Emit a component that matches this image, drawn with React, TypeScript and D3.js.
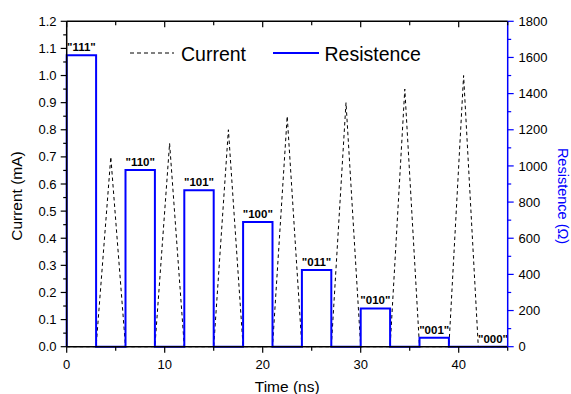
import React from "react";
import * as d3 from "d3";

const currentTimes = [0, 3, 4.5, 6, 9, 10.5, 12, 15, 16.5, 18, 21, 22.5, 24, 27, 28.5, 30, 33, 34.5, 36, 39, 40.5, 42, 45];
const currentValues = [0, 0, 0.7, 0, 0, 0.75, 0, 0, 0.8, 0, 0, 0.85, 0, 0, 0.9, 0, 0, 0.95, 0, 0, 1.0, 0, 0];

const stateLabels = ['"111"', '"110"', '"101"', '"100"', '"011"', '"010"', '"001"', '"000"'];
const blockStarts = [0, 6, 12, 18, 24, 30, 36, 42];
const blockEnds = [3, 9, 15, 21, 27, 33, 39, 45];
const resistanceValues = [1612, 978, 866, 690, 424, 212, 50, 0];

const xTicks = [0, 10, 20, 30, 40];
const leftTicks = [0, 0.1, 0.2, 0.3, 0.4, 0.5, 0.6, 0.7, 0.8, 0.9, 1.0, 1.1, 1.2];
const rightTicks = [0, 200, 400, 600, 800, 1000, 1200, 1400, 1600, 1800];

const W = 571, H = 394;
const M = { left: 66.7, right: 507.7, top: 21.3, bottom: 346.7 };
const FONT = "Liberation Sans, Arial, sans-serif";

export default function App() {
  const x = d3.scaleLinear().domain([0, 45]).range([M.left, M.right]);
  const y = d3.scaleLinear().domain([0, 1.2]).range([M.bottom, M.top]);
  const yR = d3.scaleLinear().domain([0, 1800]).range([M.bottom, M.top]);

  const curPts: [number, number][] = currentTimes.map((t, i) => [t, currentValues[i]]);
  const curLine = d3.line<[number, number]>().x(d => x(d[0])).y(d => y(d[1]))(curPts) || "";

  const resPts: [number, number][] = [];
  blockStarts.forEach((s, i) => {
    resPts.push([s, 0]);
    resPts.push([s, resistanceValues[i]]);
    resPts.push([blockEnds[i], resistanceValues[i]]);
    resPts.push([blockEnds[i], 0]);
  });
  const resLine = d3.line<[number, number]>().x(d => x(d[0])).y(d => yR(d[1]))(resPts) || "";

  const xMinor = d3.range(5, 45.1, 10);
  const leftMinor = d3.range(0.05, 1.2, 0.1);
  const rightMinor = d3.range(100, 1800, 200);
  const midY = 196;

  return (
    <svg width={W} height={H} style={{ position: "absolute", left: 0, top: 0, background: "#fff" }} fontFamily={FONT}>
      <rect x={0} y={0} width={W} height={H} fill="#fff" />
      {/* data */}
      <path d={curLine} fill="none" stroke="#000" strokeWidth={1} strokeDasharray="3.5,3" />
      <path d={resLine} fill="none" stroke="#0000ff" strokeWidth={2} />

      {stateLabels.map((l, i) => (
        <text key={l} x={x((blockStarts[i] + blockEnds[i]) / 2)} y={yR(resistanceValues[i]) - 4}
          textAnchor="middle" fontSize={11.5} fontWeight="bold" fill="#000">{l}</text>
      ))}

      {/* frame */}
      <line x1={M.left} x2={M.right} y1={M.top} y2={M.top} stroke="#000" strokeWidth={1.5} />
      <line x1={M.left} x2={M.right} y1={M.bottom} y2={M.bottom} stroke="#000" strokeWidth={1.5} />
      <line x1={M.left} x2={M.left} y1={M.top} y2={M.bottom} stroke="#000" strokeWidth={1.5} />
      <line x1={M.right} x2={M.right} y1={M.top} y2={M.bottom} stroke="#0000ff" strokeWidth={1.5} />

      {/* bottom axis */}
      {xTicks.map(t => (
        <g key={"xb" + t}>
          <line x1={x(t)} x2={x(t)} y1={M.bottom} y2={M.bottom + 6} stroke="#000" strokeWidth={1.2} />
          <line x1={x(t)} x2={x(t)} y1={M.top} y2={M.top + 6} stroke="#000" strokeWidth={1.2} />
          <text x={x(t)} y={369} textAnchor="middle" fontSize={13} fill="#000">{t}</text>
        </g>
      ))}
      {xMinor.map(t => (
        <g key={"xm" + t}>
          <line x1={x(t)} x2={x(t)} y1={M.bottom} y2={M.bottom + 4} stroke="#000" strokeWidth={1.2} />
          <line x1={x(t)} x2={x(t)} y1={M.top} y2={M.top + 4} stroke="#000" strokeWidth={1.2} />
        </g>
      ))}
      <text x={(M.left + M.right) / 2} y={392} textAnchor="middle" fontSize={15.5} fill="#000">Time (ns)</text>

      {/* left axis */}
      {leftTicks.map(t => (
        <g key={"yl" + t}>
          <line x1={M.left - 6} x2={M.left} y1={y(t)} y2={y(t)} stroke="#000" strokeWidth={1.2} />
          <text x={56.5} y={y(t) + 4.6} textAnchor="end" fontSize={13} fill="#000">{t.toFixed(1)}</text>
        </g>
      ))}
      {leftMinor.map(t => (
        <line key={"ylm" + t} x1={M.left - 3.5} x2={M.left} y1={y(t)} y2={y(t)} stroke="#000" strokeWidth={1.2} />
      ))}
      <text transform={`translate(21.5,${midY}) rotate(-90)`} textAnchor="middle" fontSize={15.5} fill="#000">Current (mA)</text>

      {/* right axis */}
      {rightTicks.map(t => (
        <g key={"yr" + t}>
          <line x1={M.right} x2={M.right + 6} y1={yR(t)} y2={yR(t)} stroke="#0000ff" strokeWidth={1.2} />
          <text x={518.5} y={yR(t) + 4.6} textAnchor="start" fontSize={13} fill="#000">{t}</text>
        </g>
      ))}
      {rightMinor.map(t => (
        <line key={"yrm" + t} x1={M.right} x2={M.right + 3.5} y1={yR(t)} y2={yR(t)} stroke="#0000ff" strokeWidth={1.2} />
      ))}
      <text transform={`translate(557.5,${midY}) rotate(90)`} textAnchor="middle" fontSize={14.5} fill="#0000ff">Resistence (Ω)</text>

      {/* legend */}
      <line x1={130} x2={174} y1={53} y2={53} stroke="#000" strokeWidth={1} strokeDasharray="4,3" />
      <text x={181} y={60.5} fontSize={19.5} fill="#000">Current</text>
      <line x1={273} x2={319} y1={53} y2={53} stroke="#0000ff" strokeWidth={2} />
      <text x={324.5} y={60.5} fontSize={19.5} fill="#000">Resistence</text>
    </svg>
  );
}
